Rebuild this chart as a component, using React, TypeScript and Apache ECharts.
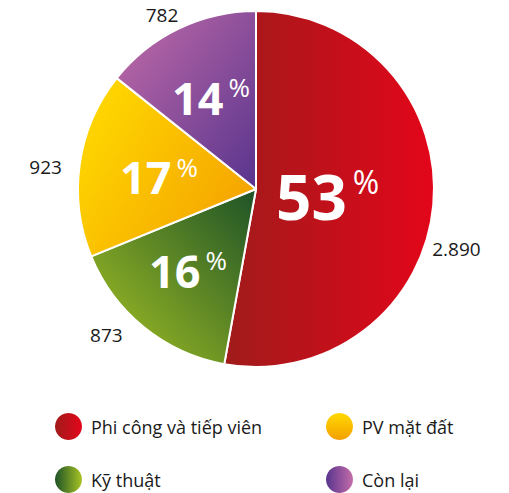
import React, { useEffect, useRef } from "react";
import * as echarts from "echarts";

// Data (clockwise from 12 o'clock)
const categories = ["Phi công và tiếp viên", "Kỹ thuật", "PV mặt đất", "Còn lại"];
const values = [2890, 873, 923, 782];
const legendOrder = ["Phi công và tiếp viên", "PV mặt đất", "Kỹ thuật", "Còn lại"];

// Styles
const FONT = "'Open Sans', 'Noto Sans', sans-serif";
const sliceGradients = [
  { x: 0, y: 0, x2: 1, y2: 0, c0: "#a01b1b", c1: "#e3061a" },
  { x: 0, y: 1, x2: 1, y2: 0, c0: "#a8c423", c1: "#1d5227" },
  { x: 0, y: 0.2, x2: 1, y2: 0.8, c0: "#ffd900", c1: "#f4a000" },
  { x: 0, y: 0, x2: 1, y2: 1, c0: "#c36ca8", c1: "#58348e" },
];
const legendGradients: Record<string, any> = {
  "Phi công và tiếp viên": { x: 0, y: 0, x2: 1, y2: 0, c0: "#a01b1b", c1: "#e3061a" },
  "PV mặt đất": { x: 0, y: 0, x2: 0, y2: 1, c0: "#ffd900", c1: "#f4a000" },
  "Kỹ thuật": { x: 0, y: 0, x2: 1, y2: 0, c0: "#1d5227", c1: "#a8c423" },
  "Còn lại": { x: 0, y: 0, x2: 1, y2: 0, c0: "#58348e", c1: "#c36ca8" },
};
const legendPos: Record<string, [number, number]> = {
  "Phi công và tiếp viên": [55, 413],
  "PV mặt đất": [326, 413],
  "Kỹ thuật": [55, 466],
  "Còn lại": [326, 466],
};
const outerOffsets: [number, number][] = [[-16, 43], [-10, 0], [-3, 5], [9, -5]];
const innerOffsets: [number, number][] = [[-20, -1], [-10, 10], [-6, 1], [-5, -9]];

const grad = (g: any) =>
  new echarts.graphic.LinearGradient(g.x, g.y, g.x2, g.y2, [
    { offset: 0, color: g.c0 },
    { offset: 1, color: g.c1 },
  ]);

const fmtThousands = (v: number) => String(v).replace(/\B(?=(\d{3})+(?!\d))/g, ".");

export default function App() {
  const ref = useRef<HTMLDivElement>(null);
  useEffect(() => {
    if (!ref.current) return;
    const chart = echarts.init(ref.current, undefined, { renderer: "svg" });
    const total = values.reduce((a, b) => a + b, 0);
    const center = [256, 189];
    const radius = 178;

    const innerData = categories.map((name, i) => ({
      name,
      value: values[i],
      itemStyle: { color: grad(sliceGradients[i]) },
      label: { offset: innerOffsets[i] },
    }));
    const outerData = categories.map((name, i) => ({
      name,
      value: values[i],
      label: { offset: outerOffsets[i] },
    }));

    chart.setOption({
      animation: false,
      legend: legendOrder.map((name) => ({
        data: [{ name, itemStyle: { color: grad(legendGradients[name]) } }],
        left: legendPos[name][0],
        top: legendPos[name][1],
        padding: 0,
        icon: "circle",
        itemWidth: 27,
        itemHeight: 27,
        selectedMode: false,
        textStyle: {
          fontFamily: FONT,
          fontSize: 18,
          color: "#1a1a1a",
          padding: [0, 0, 0, 4],
        },
      })),
      series: [
        {
          type: "pie",
          name: "values",
          center,
          radius,
          startAngle: 90,
          clockwise: true,
          silent: true,
          z: 1,
          itemStyle: { color: "transparent", borderWidth: 0 },
          label: {
            show: true,
            position: "outside",
            fontFamily: FONT,
            fontSize: 19,
            color: "#1a1a1a",
            distanceToLabelLine: 5,
            formatter: (p: any) => fmtThousands(p.value),
          },
          labelLine: { show: false, length: 10, length2: 0 },
          data: outerData,
        },
        {
          type: "pie",
          name: "share",
          center,
          radius,
          startAngle: 90,
          clockwise: true,
          silent: true,
          z: 2,
          itemStyle: { borderColor: "#ffffff", borderWidth: 2 },
          label: {
            show: true,
            position: "inside",
            formatter: (p: any) => {
              const pct = Math.round((p.value / total) * 100);
              return p.dataIndex === 0 ? `{n1|${pct}}{p1|%}` : `{n2|${pct}}{p2|%}`;
            },
            rich: {
              n1: { fontFamily: FONT, fontSize: 62, fontWeight: "bold", color: "#fff", lineHeight: 62 },
              p1: { fontFamily: FONT, fontSize: 32, color: "#fff", verticalAlign: "top", lineHeight: 62, padding: [0, 0, 0, 6] },
              n2: { fontFamily: FONT, fontSize: 45, fontWeight: "bold", color: "#fff", lineHeight: 46 },
              p2: { fontFamily: FONT, fontSize: 26, color: "#fff", verticalAlign: "top", lineHeight: 46, padding: [0, 0, 0, 5] },
            },
          },
          labelLine: { show: false },
          data: innerData,
        },
      ],
    });
    return () => chart.dispose();
  }, []);
  return (
    <div
      ref={ref}
      style={{ position: "fixed", left: 0, top: 0, width: 509, height: 493, background: "#fff" }}
    />
  );
}
